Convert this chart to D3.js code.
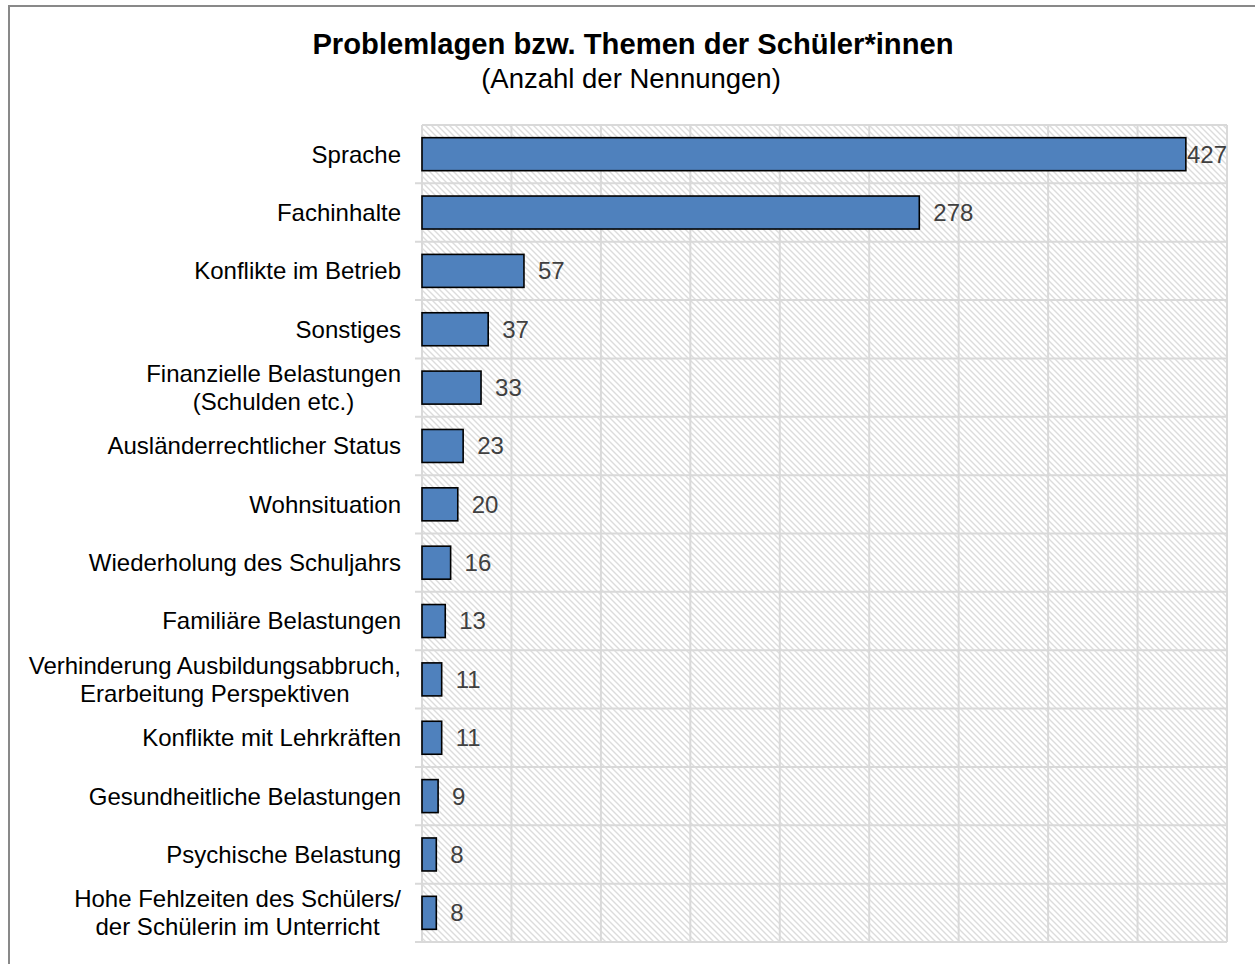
<!DOCTYPE html>
<html><head><meta charset="utf-8">
<script src="https://cdn.jsdelivr.net/npm/d3@7"></script>
<style>html,body{margin:0;padding:0;background:#fff;overflow:hidden}</style>
</head><body>
<svg id="chart" width="1255" height="964"></svg>
<script>
const categories = [
  ["Sprache"],
  ["Fachinhalte"],
  ["Konflikte im Betrieb"],
  ["Sonstiges"],
  ["Finanzielle Belastungen", "(Schulden etc.)"],
  ["Ausländerrechtlicher Status"],
  ["Wohnsituation"],
  ["Wiederholung des Schuljahrs"],
  ["Familiäre Belastungen"],
  ["Verhinderung Ausbildungsabbruch,", "Erarbeitung Perspektiven"],
  ["Konflikte mit Lehrkräften"],
  ["Gesundheitliche Belastungen"],
  ["Psychische Belastung"],
  ["Hohe Fehlzeiten des Schülers/", "der Schülerin im Unterricht"]
];
const values = [427, 278, 57, 37, 33, 23, 20, 16, 13, 11, 11, 9, 8, 8];
const xTicks = [0, 50, 100, 150, 200, 250, 300, 350, 400, 450];
const title = "Problemlagen bzw. Themen der Schüler*innen";
const subtitle = "(Anzahl der Nennungen)";

const svg = d3.select("#chart");
const font = "'Liberation Sans', Arial, sans-serif";
const M = {left: 422, right: 1227, top: 125, bottom: 942};

const defs = svg.append("defs");
const pat = defs.append("pattern").attr("id", "hatch")
  .attr("patternUnits", "userSpaceOnUse").attr("width", 6).attr("height", 6);
pat.append("path").attr("d", "M0,0 L6,6 M-1,5 L1,7 M5,-1 L7,1")
  .attr("stroke", "#dcdcdc").attr("stroke-width", 1.4).attr("fill", "none");

// outer border
svg.append("rect").attr("x", 9).attr("y", 6).attr("width", 1260).attr("height", 980)
  .attr("fill", "#fff").attr("stroke", "#898989").attr("stroke-width", 2);

svg.append("text").attr("x", 633).attr("y", 54).attr("text-anchor", "middle")
  .attr("font-family", font).attr("font-size", 29.2).attr("font-weight", "bold")
  .attr("fill", "#000").text(title);
svg.append("text").attr("x", 631).attr("y", 88).attr("text-anchor", "middle")
  .attr("font-family", font).attr("font-size", 27.5)
  .attr("fill", "#000").text(subtitle);

const x = d3.scaleLinear().domain([0, 450]).range([M.left, M.right]);
const y = d3.scaleBand().domain(d3.range(categories.length)).range([M.top, M.bottom])
  .paddingInner(0).paddingOuter(0);

// plot background
svg.append("rect").attr("x", M.left).attr("y", M.top)
  .attr("width", M.right - M.left).attr("height", M.bottom - M.top)
  .attr("fill", "url(#hatch)");

const grid = svg.append("g").attr("stroke", "#d9d9d9").attr("stroke-width", 2);
grid.selectAll("line.v").data(xTicks).join("line").attr("class", "v")
  .attr("x1", d => x(d)).attr("x2", d => x(d))
  .attr("y1", M.top).attr("y2", M.bottom);
const hLines = d3.range(categories.length + 1).map(i => i < categories.length ? y(i) : M.bottom);
grid.selectAll("line.h").data(hLines).join("line").attr("class", "h")
  .attr("x1", (d, i) => (i === 0 ? M.left : M.left - 7)).attr("x2", M.right)
  .attr("y1", d => d).attr("y2", d => d);

// bars
const bh = 33;
svg.append("g").selectAll("rect").data(values).join("rect")
  .attr("x", x(0)).attr("y", (d, i) => y(i) + y.bandwidth() / 2 - bh / 2)
  .attr("width", d => x(d) - x(0)).attr("height", bh)
  .attr("fill", "#4f81bd").attr("stroke", "#000").attr("stroke-width", 1.6);

// value labels
const vl = svg.append("g").selectAll("text").data(values).join("text")
  .attr("y", (d, i) => y(i) + y.bandwidth() / 2)
  .attr("dy", "0.35em")
  .attr("font-family", font).attr("font-size", 24).attr("fill", "#404040")
  .text(d => d);
vl.each(function(d) {
  const w = this.getComputedTextLength();
  d3.select(this).attr("x", Math.min(x(d) + 14, M.right - w));
});

// category labels: block right-aligned at 401, lines centered within block
const labelRight = 401;
const cl = svg.append("g").selectAll("g").data(categories).join("g");
cl.each(function(lines, i) {
  const cy = y(i) + y.bandwidth() / 2;
  const lh = 28;
  const g = d3.select(this);
  const ts = lines.map((s, k) => g.append("text")
    .attr("font-family", font).attr("font-size", 24).attr("fill", "#000")
    .attr("y", cy + (k - (lines.length - 1) / 2) * lh)
    .attr("dy", "0.35em").text(s));
  const maxW = d3.max(ts, t => t.node().getComputedTextLength());
  ts.forEach(t => t.attr("text-anchor", "middle").attr("x", labelRight - maxW / 2));
});
</script>
</body></html>
